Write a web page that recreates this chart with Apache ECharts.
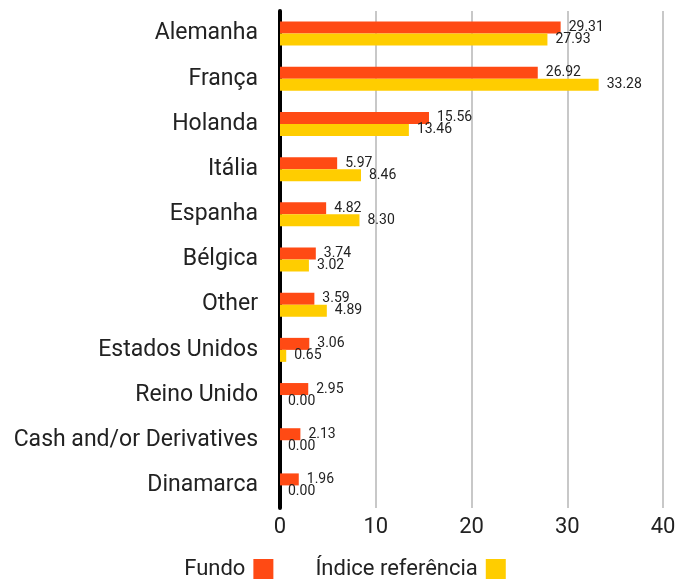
<!DOCTYPE html>
<html>
<head>
<meta charset="utf-8">
<script src="https://cdn.jsdelivr.net/npm/echarts@6/dist/echarts.min.js"></script>
<style>
  html, body { margin: 0; padding: 0; background: #fff; }
  #chart { width: 690px; height: 581px; }
</style>
</head>
<body>
<div id="chart"></div>
<script>
const categories = ['Alemanha', 'França', 'Holanda', 'Itália', 'Espanha', 'Bélgica', 'Other',
  'Estados Unidos', 'Reino Unido', 'Cash and/or Derivatives', 'Dinamarca'];
const fundo = [29.31, 26.92, 15.56, 5.97, 4.82, 3.74, 3.59, 3.06, 2.95, 2.13, 1.96];
const indice = [27.93, 33.28, 13.46, 8.46, 8.30, 3.02, 4.89, 0.65, 0.00, 0.00, 0.00];
const xTicks = [0, 10, 20, 30, 40];

const font = 'Roboto, "Noto Sans", sans-serif';
const chart = echarts.init(document.getElementById('chart'));

const labelStyle = {
  show: true,
  position: 'right',
  distance: 8,
  fontSize: 14,
  color: '#222',
  fontFamily: font,
  formatter: p => p.value.toFixed(2)
};

chart.setOption({
  animation: false,
  grid: { left: 280, right: 27, top: 11, bottom: 73 },
  legend: {
    top: 553,
    left: 'center',
    align: 'right',
    icon: 'rect',
    itemWidth: 20,
    itemHeight: 20,
    itemGap: 42,
    textStyle: { fontSize: 22, color: '#222', fontFamily: font, padding: [0, 3, 0, 0] },
    data: ['Fundo', 'Índice referência']
  },
  xAxis: {
    type: 'value',
    min: xTicks[0],
    max: xTicks[xTicks.length - 1],
    interval: 10,
    axisLine: { show: false },
    axisTick: { show: false },
    splitLine: { lineStyle: { color: '#c8c8c8', width: 2 } },
    axisLabel: { fontSize: 22, color: '#222', fontFamily: font, margin: 8 }
  },
  yAxis: {
    type: 'category',
    inverse: true,
    data: categories,
    axisLine: { show: true, lineStyle: { color: '#000', width: 4 } },
    axisTick: { show: false },
    axisLabel: { fontSize: 23, color: '#222', fontFamily: font, margin: 22 }
  },
  series: [
    {
      name: 'Fundo',
      type: 'bar',
      data: fundo,
      barWidth: 12,
      barGap: '0%',
      itemStyle: { color: '#FF4A14' },
      label: labelStyle
    },
    {
      name: 'Índice referência',
      type: 'bar',
      data: indice,
      barWidth: 12,
      itemStyle: { color: '#FFCD00' },
      label: labelStyle
    }
  ]
});
</script>
</body>
</html>
